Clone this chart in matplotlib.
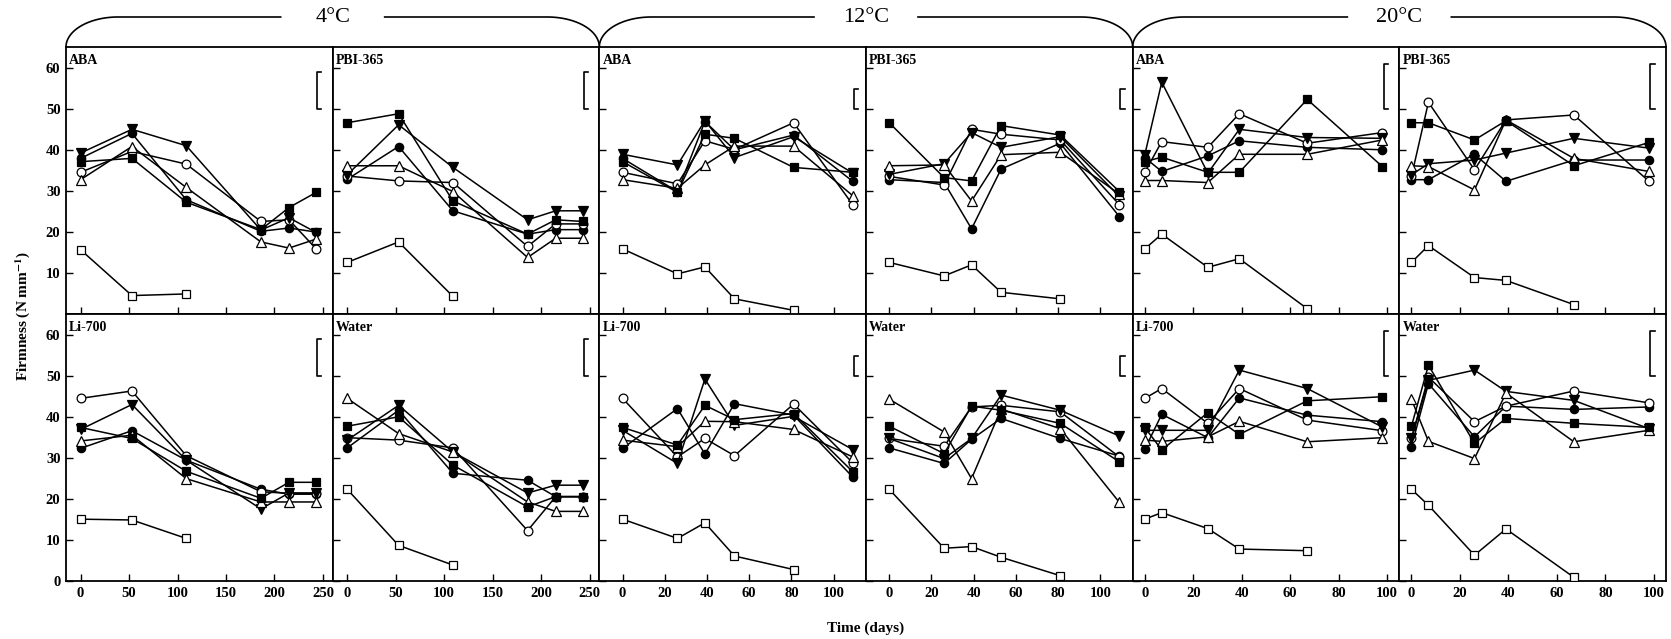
import numpy as np
import matplotlib.pyplot as plt
from matplotlib.lines import Line2D

plt.rcParams['font.family'] = ['Liberation Serif', 'DejaVu Serif']
plt.rcParams['mathtext.fontset'] = 'stix'

nan = np.nan

# sampling days for each storage temperature
t4 = [0, 53, 109, 186, 215, 243]
t12 = [0, 26, 39, 53, 81, 109]
t20 = [0, 7, 26, 39, 67, 98]

temps = ['4°C', '12°C', '20°C']
treatments_top = ['ABA', 'PBI-365']
treatments_bot = ['Li-700', 'Water']

# series order: open square, filled circle, open circle, filled down-triangle, open triangle, filled square
aba_4 = [[15.7, 4.5, 4.9, nan, nan, nan],
         [38.0, 44.1, 27.9, 20.2, 21.0, 20.0],
         [34.6, 39.7, 36.6, 22.6, 23.0, 15.9],
         [39.3, 45.1, 41.1, 20.5, 23.5, 19.9],
         [32.8, 40.9, 30.9, 17.6, 16.1, 18.3],
         [37.2, 38.0, 27.3, 20.6, 26.0, 29.7]]
pbi_4 = [[12.6, 17.6, 4.3, nan, nan, nan],
         [32.9, 40.9, 25.2, 19.5, 20.6, 20.6],
         [33.7, 32.5, 32.1, 16.5, 22.0, 22.0],
         [34.0, 46.2, 35.8, 23.0, 25.2, 25.2],
         [36.2, 36.2, 29.9, 13.8, 18.5, 18.5],
         [46.7, 48.9, 27.6, 19.5, 23.0, 22.6]]
aba_12 = [[15.9, 9.8, 11.5, 3.7, 0.9, nan],
          [38.0, 29.9, 47.0, 40.1, 43.7, 32.4],
          [34.6, 31.8, 42.3, 40.2, 46.7, 26.7],
          [39.0, 36.4, 47.2, 38.2, 43.3, 34.4],
          [32.8, 30.7, 36.4, 41.0, 41.0, 28.9],
          [37.2, 29.7, 43.9, 42.9, 35.8, 34.6]]
pbi_12 = [[12.6, 9.3, 12.0, 5.3, 3.7, nan],
          [32.8, 32.1, 20.8, 35.4, 41.7, 23.8],
          [33.6, 31.5, 45.1, 43.9, 42.5, 26.7],
          [34.1, 36.7, 44.3, 40.7, 43.3, 28.7],
          [36.2, 36.4, 27.6, 38.9, 39.5, 29.3],
          [46.7, 33.3, 32.5, 46.0, 43.7, 29.9]]
aba_20 = [[15.9, 19.5, 11.4, 13.5, 1.3, nan],
          [38.2, 34.8, 38.6, 42.3, 40.7, 40.1],
          [34.6, 42.1, 40.7, 48.9, 41.7, 44.3],
          [38.9, 56.6, 34.4, 45.1, 43.1, 42.9],
          [32.6, 32.6, 32.1, 39.0, 39.0, 42.5],
          [37.2, 38.3, 34.6, 34.6, 52.4, 36.0]]
pbi_20 = [[12.6, 16.7, 8.9, 8.2, 2.3, nan],
          [32.8, 32.8, 39.0, 32.4, 37.6, 37.6],
          [33.6, 51.7, 35.2, 47.4, 48.6, 32.4],
          [34.0, 36.7, 37.6, 39.3, 42.9, 40.5],
          [36.2, 36.0, 30.3, 47.4, 38.0, 34.8],
          [46.7, 46.7, 42.5, 47.2, 36.2, 41.9]]
li_4 = [[15.1, 14.9, 10.4, nan, nan, nan],
        [32.4, 36.7, 29.5, 22.4, 21.2, 21.2],
        [44.6, 46.4, 30.6, 21.8, 21.4, 21.4],
        [37.0, 43.1, 29.5, 17.6, 21.5, 21.5],
        [34.2, 35.6, 25.0, 19.3, 19.3, 19.3],
        [37.5, 34.8, 26.8, 20.2, 24.1, 24.1]]
water_4 = [[22.4, 8.7, 3.9, nan, nan, nan],
           [32.5, 41.7, 26.3, 24.6, 20.6, 20.6],
           [35.0, 34.4, 32.5, 12.3, 20.6, 20.6],
           [34.4, 42.9, 31.5, 21.5, 23.4, 23.4],
           [44.6, 36.0, 31.5, 19.3, 17.0, 17.0],
           [37.8, 40.1, 28.3, 18.1, 20.6, 20.6]]
li_12 = [[15.1, 10.4, 14.2, 6.1, 2.8, nan],
         [32.4, 42.1, 31.0, 43.3, 40.5, 25.4],
         [44.6, 30.3, 34.8, 30.6, 43.2, 28.9],
         [36.8, 28.7, 49.3, 38.0, 40.2, 32.1],
         [34.4, 32.8, 39.0, 38.9, 37.0, 30.3],
         [37.5, 33.2, 42.9, 39.4, 40.9, 26.7]]
water_12 = [[22.4, 8.0, 8.4, 5.8, 1.3, nan],
            [32.5, 28.7, 34.6, 39.7, 34.8, 30.5],
            [34.8, 32.9, 42.5, 42.9, 41.3, 30.3],
            [34.8, 29.9, 34.8, 45.4, 41.7, 35.4],
            [44.4, 36.4, 25.0, 42.0, 37.2, 19.2],
            [37.8, 31.1, 42.7, 41.7, 38.5, 29.1]]
li_20 = [[15.1, 16.7, 12.8, 7.8, 7.4, nan],
         [32.2, 40.7, 35.0, 44.7, 40.5, 38.9],
         [44.6, 47.0, 38.5, 47.0, 39.3, 36.7],
         [36.8, 36.8, 36.8, 51.5, 47.0, 37.6],
         [34.4, 34.1, 35.2, 39.0, 34.0, 35.0],
         [37.5, 32.0, 41.1, 35.8, 44.0, 45.0]]
water_20 = [[22.4, 18.5, 6.3, 12.7, 0.9, nan],
            [32.8, 48.2, 35.2, 42.7, 41.9, 42.5],
            [34.8, 49.8, 38.9, 42.7, 46.4, 43.5],
            [34.8, 49.0, 51.5, 46.3, 44.1, 37.2],
            [44.4, 34.1, 29.9, 45.9, 34.0, 36.8],
            [37.8, 52.7, 33.6, 39.7, 38.5, 37.5]]

# LSD bar (bottom, top) and its x position, per temperature
lsd_bar = [(50, 59), (50, 55), (50, 61)]
lsd_x = [244, 109.5, 98.5]

markers = [('s', 'white', 5.5), ('o', 'black', 6), ('o', 'white', 6.3),
           ('v', 'black', 6.5), ('^', 'white', 6.5), ('s', 'black', 5.5)]

times = [t4, t12, t20]
xlims = [(-15, 260), (-11, 115.3), (-5, 105)]
xticks = [np.arange(0, 251, 50), np.arange(0, 101, 20), np.arange(0, 101, 20)]
top_row = [aba_4, pbi_4, aba_12, pbi_12, aba_20, pbi_20]
bot_row = [li_4, water_4, li_12, water_12, li_20, water_20]

W, H = 1671, 639
fig = plt.figure(figsize=(W / 100, H / 100), dpi=100)

x0, x1 = 66, 1666
pw = (x1 - x0) / 6
y_top, y_mid, y_bot = 47, 314, 581

for r, (row, names) in enumerate([(top_row, treatments_top), (bot_row, treatments_bot)]):
    ya, yb = (y_top, y_mid) if r == 0 else (y_mid, y_bot)
    for c in range(6):
        ti = c // 2
        ax = fig.add_axes([(x0 + c * pw) / W, 1 - yb / H, pw / W, (yb - ya) / H])
        data = row[c]
        for k, (m, fc, ms) in enumerate(markers):
            ax.plot(times[ti], data[k], color='black', lw=1.1, marker=m, ms=ms,
                    mfc=fc, mec='black', mew=0.9, zorder=3 + (k == 0))
        # LSD bracket
        b0, b1 = lsd_bar[ti]
        xb = lsd_x[ti]
        stub = 0.016 * (xlims[ti][1] - xlims[ti][0])
        ax.plot([xb + stub, xb, xb, xb + stub], [b1, b1, b0, b0], color='black', lw=1.2)
        ax.text(0.012, 0.975, names[c % 2], transform=ax.transAxes, ha='left', va='top',
                fontsize=10, fontweight='bold')
        ax.set_xlim(*xlims[ti])
        ax.set_ylim(0, 65.2)
        ax.set_xticks(xticks[ti])
        ax.set_yticks(np.arange(0, 61, 10))
        ax.tick_params(direction='in', length=5, width=1, labelsize=10.5, pad=4)
        for s in ax.spines.values():
            s.set_linewidth(1.3)
        if r == 0:
            ax.set_xticklabels([])
        else:
            ax.set_xticklabels([str(v) for v in xticks[ti]], fontweight='bold')
        if c == 0:
            labs = [str(v) for v in range(0, 61, 10)]
            if r == 0:
                labs[0] = ''
            ax.set_yticklabels(labs, fontweight='bold')
        else:
            ax.set_yticklabels([])

# temperature header braces
for i, t in enumerate(temps):
    left = x0 + 2 * i * pw
    right = left + 2 * pw
    mid = (left + right) / 2
    top, rx, ry = 17, 52, 30
    gap = 52
    th = np.linspace(0, np.pi / 2, 40)
    arc_l_x = left + rx - rx * np.cos(th)
    arc_l_y = y_top - ry * np.sin(th)
    xs_l = np.concatenate([arc_l_x, [mid - gap]])
    ys_l = np.concatenate([arc_l_y, [top]])
    xs_r = np.concatenate([[mid + gap], right - rx + rx * np.cos(th[::-1])])
    ys_r = np.concatenate([[top], y_top - ry * np.sin(th[::-1])])
    for xs, ys in [(xs_l, ys_l), (xs_r, ys_r)]:
        fig.add_artist(Line2D(xs / W, 1 - ys / H, color='black', lw=1.2,
                              transform=fig.transFigure))
    fig.text(mid / W, 1 - top / H, t, ha='center', va='center', fontsize=16)

fig.text(23 / W, 1 - 316 / H, r'Firmness (N mm$^{\mathbf{-1}}$)', rotation=90,
         ha='center', va='center', fontsize=11, fontweight='bold')
fig.text(866 / W, 1 - 628 / H, 'Time (days)', ha='center', va='center',
         fontsize=11, fontweight='bold')

fig.savefig('out.png', dpi=100)
